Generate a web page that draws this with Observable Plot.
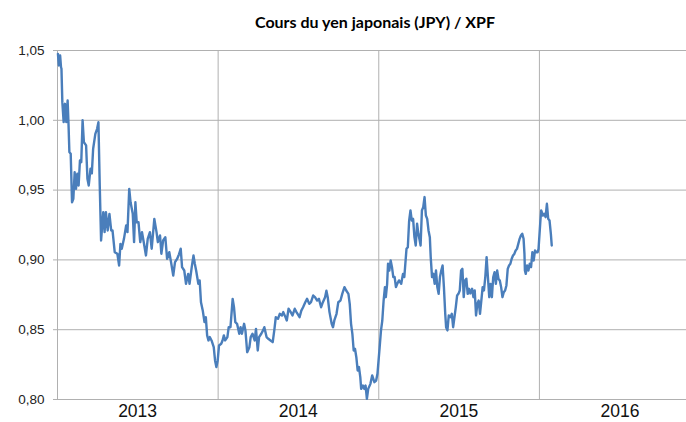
<!DOCTYPE html>
<html><head><meta charset="utf-8">
<script src="https://cdn.jsdelivr.net/npm/d3@7"></script>
<script src="https://cdn.jsdelivr.net/npm/@observablehq/plot@0.6"></script>
<style>
html,body{margin:0;padding:0;background:#fff;overflow:hidden;}
#wrap{position:relative;width:686px;height:422px;overflow:hidden;}
#title{position:absolute;left:0;top:13px;width:750px;text-align:center;font-family:Lato,"Liberation Sans",sans-serif;font-weight:bold;font-size:16px;line-height:18px;color:#000;}
#chart{position:absolute;left:0;top:0;}
</style></head><body>
<div id="wrap"><div id="chart"></div><div id="title"></div></div>
<script>
const title = "Cours du yen japonais (JPY) / XPF";
const yearLabels = ["2013", "2014", "2015", "2016"];
const yTicks = [0.80, 0.85, 0.90, 0.95, 1.00, 1.05];
const dates = [
"2013-01-02","2013-01-04","2013-01-07","2013-01-09","2013-01-10","2013-01-12","2013-01-15","2013-01-18","2013-01-21","2013-01-24","2013-01-26","2013-01-28","2013-01-31",
"2013-02-03","2013-02-06","2013-02-09","2013-02-12","2013-02-15","2013-02-18","2013-02-21","2013-02-24","2013-02-27",
"2013-03-02","2013-03-07","2013-03-10","2013-03-13","2013-03-17","2013-03-20","2013-03-23","2013-03-28",
"2013-04-01","2013-04-04","2013-04-07","2013-04-10","2013-04-15","2013-04-18","2013-04-21","2013-04-25","2013-04-29",
"2013-05-03","2013-05-06","2013-05-11","2013-05-17","2013-05-21","2013-05-24","2013-05-27",
"2013-06-01","2013-06-06","2013-06-09","2013-06-13","2013-06-16","2013-06-21","2013-06-24","2013-06-27","2013-06-30",
"2013-07-04","2013-07-08","2013-07-12","2013-07-16","2013-07-21","2013-07-25","2013-07-30",
"2013-08-03","2013-08-09","2013-08-14","2013-08-17","2013-08-22","2013-08-25","2013-08-29",
"2013-09-03","2013-09-07","2013-09-12","2013-09-16","2013-09-21","2013-09-25","2013-09-30",
"2013-10-04","2013-10-08","2013-10-11","2013-10-16","2013-10-20","2013-10-25","2013-10-28",
"2013-11-02","2013-11-06","2013-11-09","2013-11-12","2013-11-17","2013-11-20","2013-11-23","2013-11-27",
"2013-12-01","2013-12-04","2013-12-07","2013-12-10","2013-12-13","2013-12-17","2013-12-22","2013-12-25","2013-12-28","2013-12-31",
"2014-01-03","2014-01-08","2014-01-11","2014-01-14","2014-01-17","2014-01-22","2014-01-25","2014-01-29",
"2014-02-03","2014-02-06","2014-02-09","2014-02-13","2014-02-18","2014-02-21","2014-02-24",
"2014-03-01","2014-03-04","2014-03-08","2014-03-13","2014-03-16","2014-03-20","2014-03-25","2014-03-28",
"2014-04-01","2014-04-04","2014-04-09","2014-04-13","2014-04-16","2014-04-21","2014-04-25","2014-04-30",
"2014-05-05","2014-05-09","2014-05-12","2014-05-17","2014-05-21","2014-05-26","2014-05-29",
"2014-06-03","2014-06-06","2014-06-10","2014-06-15","2014-06-19","2014-06-24","2014-06-28",
"2014-07-05","2014-07-09","2014-07-13","2014-07-18","2014-07-22","2014-07-27","2014-07-31",
"2014-08-05","2014-08-09","2014-08-14","2014-08-18","2014-08-23","2014-08-27",
"2014-09-01","2014-09-04","2014-09-07","2014-09-11","2014-09-16","2014-09-19","2014-09-22","2014-09-27",
"2014-10-01","2014-10-06","2014-10-10","2014-10-15","2014-10-19","2014-10-24","2014-10-27","2014-10-30",
"2014-11-02","2014-11-05","2014-11-08","2014-11-11","2014-11-14","2014-11-17","2014-11-20","2014-11-22","2014-11-26","2014-11-29",
"2014-12-02","2014-12-05","2014-12-08","2014-12-13","2014-12-17","2014-12-22","2014-12-26","2014-12-29",
"2015-01-03","2015-01-06","2015-01-09","2015-01-12","2015-01-15","2015-01-17","2015-01-20","2015-01-22","2015-01-25","2015-01-28","2015-01-31",
"2015-02-03","2015-02-06","2015-02-09","2015-02-12","2015-02-16","2015-02-21","2015-02-25","2015-02-28",
"2015-03-05","2015-03-08","2015-03-11","2015-03-14","2015-03-17","2015-03-20","2015-03-23","2015-03-26","2015-03-29",
"2015-04-01","2015-04-04","2015-04-06","2015-04-09","2015-04-12","2015-04-15","2015-04-18","2015-04-21","2015-04-24","2015-04-27","2015-04-29",
"2015-05-02","2015-05-05","2015-05-08","2015-05-11","2015-05-14","2015-05-17","2015-05-20","2015-05-23","2015-05-26","2015-05-29",
"2015-06-01","2015-06-03","2015-06-06","2015-06-09","2015-06-13","2015-06-16","2015-06-19","2015-06-22","2015-06-25","2015-06-28",
"2015-07-01","2015-07-04","2015-07-07","2015-07-10","2015-07-13","2015-07-16","2015-07-19","2015-07-22","2015-07-25","2015-07-28",
"2015-08-01","2015-08-04","2015-08-07","2015-08-10","2015-08-13","2015-08-16","2015-08-19","2015-08-22","2015-08-25","2015-08-28","2015-08-31",
"2015-09-03","2015-09-06","2015-09-09","2015-09-12","2015-09-15","2015-09-18","2015-09-21","2015-09-24","2015-09-27","2015-09-30",
"2015-10-03","2015-10-06","2015-10-09","2015-10-12","2015-10-15","2015-10-18","2015-10-21","2015-10-24","2015-10-27","2015-10-30",
"2015-11-02","2015-11-05","2015-11-08","2015-11-11","2015-11-14","2015-11-17","2015-11-20","2015-11-23","2015-11-26","2015-11-28","2015-11-29",
"2015-12-01","2015-12-04","2015-12-07","2015-12-10","2015-12-13","2015-12-16","2015-12-19","2015-12-22","2015-12-25","2015-12-28","2015-12-30",
"2016-01-03","2016-01-05","2016-01-09","2016-01-12","2016-01-15","2016-01-18","2016-01-21","2016-01-24","2016-01-27","2016-01-29"
];
const rates = [
1.0476,1.0393,1.0464,1.038,1.037,1.013,0.9987,1.0118,0.9987,1.0142,0.9975,0.9772,0.976,
0.9413,0.9438,0.9628,0.9509,0.9617,0.9533,0.9712,0.970,1.000,
0.9843,0.982,0.9581,0.9533,0.9653,0.962,0.9796,0.9903,
0.9939,0.9987,0.9533,0.9139,0.9342,0.9199,0.9342,0.9211,0.933,
0.9211,0.9211,0.9055,0.9044,0.896,0.9115,0.908,
0.9151,0.9247,0.9199,0.9509,0.9413,0.933,0.9127,0.9413,0.927,
0.927,0.9127,0.9199,0.9127,0.9032,0.9151,0.9199,
0.908,0.9294,0.9199,0.9127,0.9175,0.9044,0.9139,
0.9163,0.9008,0.9055,0.8984,0.8888,0.8984,0.9008,
0.904,0.908,0.8948,0.8924,0.8829,0.890,0.8829,
0.8948,0.9032,0.8972,0.8924,0.8829,0.8853,0.8697,0.8638,
0.8554,0.859,0.8459,0.8423,0.8447,0.8423,0.8375,0.828,0.8232,0.828,
0.8387,0.8399,0.8423,0.8459,0.8423,0.8447,0.8518,0.8518,
0.8721,0.8662,0.8554,0.8542,0.8471,0.8518,0.8471,
0.8542,0.8495,0.8339,0.8375,0.8447,0.8471,0.8423,0.8506,
0.8351,0.8447,0.8471,0.8495,0.8518,0.8447,0.8435,0.8423,
0.8411,0.8506,0.859,0.8578,0.8614,0.8602,0.8626,
0.859,0.8566,0.865,0.8626,0.8602,0.865,0.8626,
0.859,0.8637,0.8661,0.8697,0.8721,0.8685,0.8697,
0.8745,0.8733,0.8709,0.8721,0.8661,0.8697,
0.8733,0.878,0.8733,0.8626,0.8542,0.8518,0.8566,0.8614,
0.8697,0.8709,0.8757,0.8805,0.8781,0.8757,0.8685,0.8542,
0.847,0.8351,0.8363,0.8303,0.8208,0.8232,0.816,0.8076,0.810,0.8076,
0.810,0.8005,0.8076,0.8112,0.8172,0.8124,0.8136,0.8184,
0.8375,0.8494,0.8566,0.8709,0.8805,0.8733,0.8829,0.8972,0.8924,0.8996,0.8948,
0.8877,0.8877,0.8805,0.8829,0.8853,0.8829,0.890,0.8877,
0.908,0.9091,0.9282,0.9354,0.9282,0.9294,0.9163,0.9103,0.9259,
0.9187,0.9139,0.9103,0.9354,0.9378,0.945,0.9318,0.9294,0.9211,0.9163,0.902,
0.8877,0.890,0.8829,0.8924,0.8805,0.8757,0.8877,0.8924,0.896,0.8805,
0.8614,0.8518,0.8495,0.8602,0.859,0.8614,0.8518,0.859,0.8662,0.8745,
0.8757,0.8781,0.8924,0.8936,0.8733,0.8853,0.8865,0.8757,0.8793,0.876,
0.8793,0.8733,0.8781,0.8602,0.8685,0.8709,0.8614,0.8709,0.8805,0.8781,0.8876,
0.902,0.8876,0.8733,0.8828,0.8733,0.8876,0.8912,0.8828,0.8924,0.8864,
0.8852,0.8805,0.8733,0.8769,0.8781,0.8817,0.8936,0.896,0.8972,0.9008,
0.9031,0.9043,0.9067,0.9079,0.9115,0.9151,0.9175,0.9187,0.9151,0.9043,0.8924,
0.890,0.896,0.8924,0.8972,0.8948,0.9055,0.8996,0.9067,0.9055,0.9055,0.9079,
0.927,0.9354,0.9318,0.933,0.9306,0.9402,0.9294,0.9282,0.9187,0.9103
];

document.getElementById("title").textContent = title;
const parse = d3.utcParse("%Y-%m-%d");
const data = dates.map((d, i) => ({date: parse(d), rate: rates[i]}));
const yearStarts = yearLabels.map(y => parse(y + "-01-01"));
const yearMids = yearLabels.map(y => parse(y + "-07-02"));
const frFormat = d3.formatLocale({decimal: ",", thousands: " ", grouping: [3], currency: ["", " €"]}).format(".2f");
const grid = "#b0b0b0";

const chart = Plot.plot({
  width: 686,
  height: 422,
  marginLeft: 57,
  marginRight: 0,
  marginTop: 50,
  marginBottom: 23,
  style: {background: "#fff", fontFamily: "'Liberation Sans', Arial, sans-serif", color: "#222"},
  x: {type: "utc", domain: [parse("2013-01-01"), parse("2017-01-01")], range: [57, 700]},
  y: {domain: [0.80, 1.05]},
  marks: [
    Plot.ruleY(yTicks, {stroke: grid, strokeWidth: 1}),
    Plot.ruleX(yearStarts, {y1: 0.80, y2: 1.05, stroke: grid, strokeWidth: 1}),
    Plot.axisY(yTicks, {tickSize: 4, tickPadding: 9, tickFormat: frFormat, fontSize: 13.5, stroke: grid, fill: "#222", label: null}),
    Plot.axisX(yearMids, {tickSize: 0, tickPadding: 5, tickFormat: d3.utcFormat("%Y"), fontSize: 17.5, fill: "#111", label: null}),
    Plot.line(data, {x: "date", y: "rate", stroke: "#4a7ebb", strokeWidth: 2.4, strokeLinejoin: "round"})
  ]
});
document.getElementById("chart").appendChild(chart);
</script>
</body></html>
